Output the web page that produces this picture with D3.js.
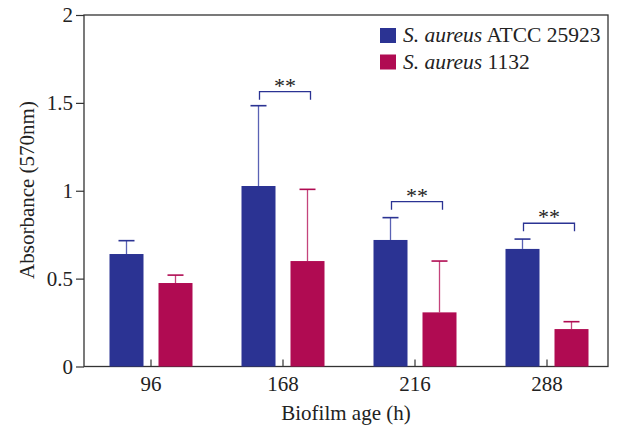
<!DOCTYPE html>
<html>
<head>
<meta charset="utf-8">
<script src="https://cdn.jsdelivr.net/npm/d3@7"></script>
<style>
  body { margin: 0; background: #fff; }
  text { font-family: "Liberation Serif", "Times New Roman", serif; fill: #222; }
</style>
</head>
<body>
<svg id="chart" width="617" height="430"></svg>
<script>
var ages = ["96", "168", "216", "288"];
var atccMean = [0.64, 1.027, 0.72, 0.669];
var atccErr = [0.076, 0.457, 0.127, 0.056];
var strainMean = [0.475, 0.60, 0.308, 0.213];
var strainErr = [0.045, 0.408, 0.292, 0.042];
var sigAges = ["168", "216", "288"];
var sigLevel = [1.564, 0.938, 0.815];
var yTicks = [0, 0.5, 1, 1.5, 2];

var blue = "#2b3393", red = "#b00b52";
var blueLine = "#5a62b4", redLine = "#c4447c";

var svg = d3.select("#chart");
var pLeft = 84, pRight = 608, pTop = 15, pBottom = 366.5;

var x = d3.scaleBand().domain(ages).range([85, 613]);
var y = d3.scaleLinear().domain([0, 2]).range([pBottom, pTop]);
var off = 24.5, bw = 34;

// frame
svg.append("rect").attr("x", pLeft).attr("y", pTop)
  .attr("width", pRight - pLeft).attr("height", pBottom - pTop)
  .attr("fill", "none").attr("stroke", "#333").attr("stroke-width", 1.3);

// y axis
var yAxis = svg.append("g").attr("transform", `translate(${pLeft},0)`)
  .call(d3.axisLeft(y).tickValues(yTicks).tickSize(8).tickFormat(d3.format("")));
yAxis.select(".domain").remove();
yAxis.selectAll("line").attr("stroke", "#333").attr("stroke-width", 1.2);
yAxis.selectAll("text").style("font-size", "21px").attr("x", -11).attr("fill", "#222");

// x axis (ticks inward)
var xAxis = svg.append("g").attr("transform", `translate(0,${pBottom})`)
  .call(d3.axisBottom(x).tickSize(-7).tickPadding(10));
xAxis.select(".domain").remove();
xAxis.selectAll("line").attr("stroke", "#333").attr("stroke-width", 1.2);
xAxis.selectAll("text").style("font-size", "21px").attr("fill", "#222");

var cx = d => x(d) + x.bandwidth() / 2;

function series(mean, err, dx, fill, lineCol) {
  var g = svg.append("g");
  g.selectAll("line.err").data(ages).join("line").attr("class", "err")
    .attr("x1", (d) => cx(d) + dx).attr("x2", (d) => cx(d) + dx)
    .attr("y1", (d, i) => y(mean[i])).attr("y2", (d, i) => y(mean[i] + err[i]))
    .attr("stroke", lineCol).attr("stroke-width", 1.3);
  g.selectAll("line.cap").data(ages).join("line").attr("class", "cap")
    .attr("x1", (d) => cx(d) + dx - 8).attr("x2", (d) => cx(d) + dx + 8)
    .attr("y1", (d, i) => y(mean[i] + err[i])).attr("y2", (d, i) => y(mean[i] + err[i]))
    .attr("stroke", fill).attr("stroke-width", 1.6);
  g.selectAll("rect").data(ages).join("rect")
    .attr("x", (d) => cx(d) + dx - bw / 2).attr("width", bw)
    .attr("y", (d, i) => y(mean[i])).attr("height", (d, i) => pBottom - y(mean[i]))
    .attr("fill", fill);
}
series(atccMean, atccErr, -off, blue, blueLine);
series(strainMean, strainErr, off, red, redLine);

// significance brackets
var sg = svg.append("g");
sigAges.forEach(function (a, i) {
  var x1 = cx(a) - off + 1, x2 = cx(a) + off + 3, yy = y(sigLevel[i]);
  sg.append("path")
    .attr("d", `M${x1},${yy + 8}V${yy}H${x2}V${yy + 8}`)
    .attr("fill", "none").attr("stroke", blue).attr("stroke-width", 1.3);
  sg.append("text").attr("x", (x1 + x2) / 2).attr("y", yy + 1)
    .attr("text-anchor", "middle").style("font-size", "22px").attr("fill", "#444")
    .text("**");
});

// legend
var legend = [
  { color: blue, rest: " ATCC 25923" },
  { color: red, rest: " 1132" }
];
legend.forEach(function (l, i) {
  var ly = 28 + i * 26.5;
  svg.append("rect").attr("x", 380).attr("y", ly).attr("width", 16).attr("height", 15).attr("fill", l.color);
  var t = svg.append("text").attr("x", 403).attr("y", ly + 14).style("font-size", "21.5px");
  t.append("tspan").style("font-style", "italic").text("S. aureus");
  t.append("tspan").text(l.rest);
});

// axis titles
svg.append("text").attr("x", (pLeft + pRight) / 2).attr("y", 420)
  .attr("text-anchor", "middle").style("font-size", "21px").text("Biofilm age (h)");
svg.append("text").attr("transform", "translate(34,190) rotate(-90)")
  .attr("text-anchor", "middle").style("font-size", "21px").text("Absorbance (570nm)");
</script>
</body>
</html>
